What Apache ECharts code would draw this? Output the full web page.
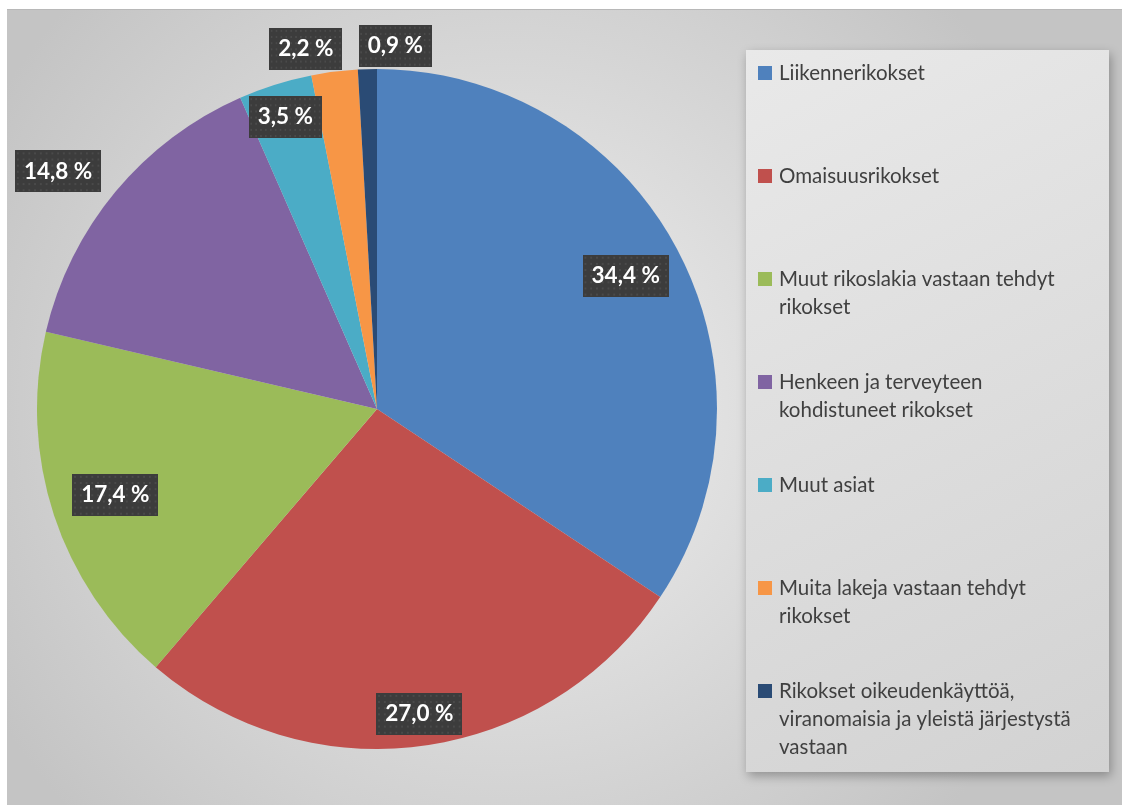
<!DOCTYPE html>
<html>
<head>
<meta charset="utf-8">
<script src="https://cdn.jsdelivr.net/npm/echarts@6/dist/echarts.min.js"></script>
<style>
html,body{margin:0;padding:0;background:#fff;}
#chart{width:1122px;height:805px;}
</style>
</head>
<body>
<div id="chart"></div>
<script>
// ---- data ----
const categories = [
  'Liikennerikokset',
  'Omaisuusrikokset',
  'Muut rikoslakia vastaan tehdyt\nrikokset',
  'Henkeen ja terveyteen\nkohdistuneet rikokset',
  'Muut asiat',
  'Muita lakeja vastaan tehdyt\nrikokset',
  'Rikokset oikeudenkäyttöä,\nviranomaisia ja yleistä järjestystä\nvastaan'
];
const values = [34.4, 27.0, 17.4, 14.8, 3.5, 2.2, 0.9];
const colors = ['#4F81BD', '#C0504D', '#9BBB59', '#8064A2', '#4BACC6', '#F79646', '#2A4B75'];

// ---- label placement style (radius fraction, angle shift in degrees) ----
const labelRadius = [0.83, 0.905, 0.81, 1.17, 0.90, 1.08, 1.07];
const labelShift = [0, 0, 0, -3, 0, -4, 4.5];

const CX = 377, CY = 409, R = 340;

// dotted label background
const pat = document.createElement('canvas');
pat.width = 90; pat.height = 41;
const g = pat.getContext('2d');
g.fillStyle = '#3c3c3c'; g.fillRect(0, 0, 90, 41);
g.fillStyle = '#4a4a4a';
for (let y = 2; y < 41; y += 6) for (let x = 2; x < 90; x += 6) g.fillRect(x, y, 2, 2);

const total = values.reduce((a, b) => a + b, 0);
const midAngles = [];
let acc = 0;
values.forEach(v => { midAngles.push((acc + v / 2) / total * 360); acc += v; });

const names = categories.map(c => c.replace(/\n/g, ' '));

const legendFirstLine = 73, legendStep = 103, LH = 28;
const legends = categories.map((c, i) => {
  const lines = c.split('\n');
  const L = lines.length;
  const padded = new Array(L - 1).fill(' ').concat(lines).join('\n');
  return {
    data: [names[i]],
    left: 758,
    top: legendFirstLine + i * legendStep - (2 * L - 1) * LH / 2,
    padding: 0,
    icon: 'rect',
    itemWidth: 14,
    itemHeight: 14,
    selectedMode: false,
    formatter: () => padded,
    textStyle: { fontFamily: 'Lato', fontSize: 20.5, color: '#404040', lineHeight: LH, padding: [0, 0, 0, 2] }
  };
});

const chart = echarts.init(document.getElementById('chart'));
chart.setOption({
  animation: false,
  color: colors,
  graphic: [
    {
      type: 'rect', z: -10,
      shape: { x: 7, y: 9, width: 1115, height: 796 },
      style: {
        fill: { type: 'radial', x: 0.45, y: 0.5, r: 0.75,
          colorStops: [{ offset: 0, color: '#f0f0f0' }, { offset: 1, color: '#c4c4c4' }] }
      }
    },
    {
      type: 'rect', z: -9,
      shape: { x: 7, y: 9, width: 1115, height: 1 },
      style: { fill: '#b8b8b8' }
    },
    {
      type: 'rect', z: -8,
      shape: { x: 746, y: 50, width: 363, height: 722 },
      style: {
        fill: { type: 'linear', x: 0, y: 0, x2: 1, y2: 1,
          colorStops: [{ offset: 0, color: '#e9e9e9' }, { offset: 1, color: '#d2d2d2' }] },
        shadowBlur: 10, shadowOffsetX: 2, shadowOffsetY: 4, shadowColor: 'rgba(0,0,0,0.3)'
      }
    }
  ],
  legend: legends,
  series: [{
    type: 'pie',
    center: [CX, CY],
    radius: [0, R],
    startAngle: 90,
    clockwise: true,
    avoidLabelOverlap: false,
    silent: true,
    itemStyle: { borderWidth: 0 },
    label: {
      show: true,
      position: 'inside',
      formatter: p => p.value.toFixed(1).replace('.', ',') + ' %',
      fontFamily: 'Lato',
      fontWeight: 'bold',
      fontSize: 22.5,
      color: '#ffffff',
      lineHeight: 26,
      padding: [8, 9],
      backgroundColor: { image: pat },
      shadowColor: 'rgba(0,0,0,0.55)',
      shadowBlur: 6,
      shadowOffsetX: 3,
      shadowOffsetY: 3
    },
    labelLine: { show: false },
    labelLayout: function (p) {
      const i = p.dataIndex;
      const a = (midAngles[i] + labelShift[i]) * Math.PI / 180;
      const r = R * labelRadius[i];
      return {
        x: CX + Math.sin(a) * r,
        y: CY - Math.cos(a) * r,
        align: 'center',
        verticalAlign: 'middle'
      };
    },
    data: names.map((n, i) => ({ name: n, value: values[i] }))
  }]
});
</script>
</body>
</html>
